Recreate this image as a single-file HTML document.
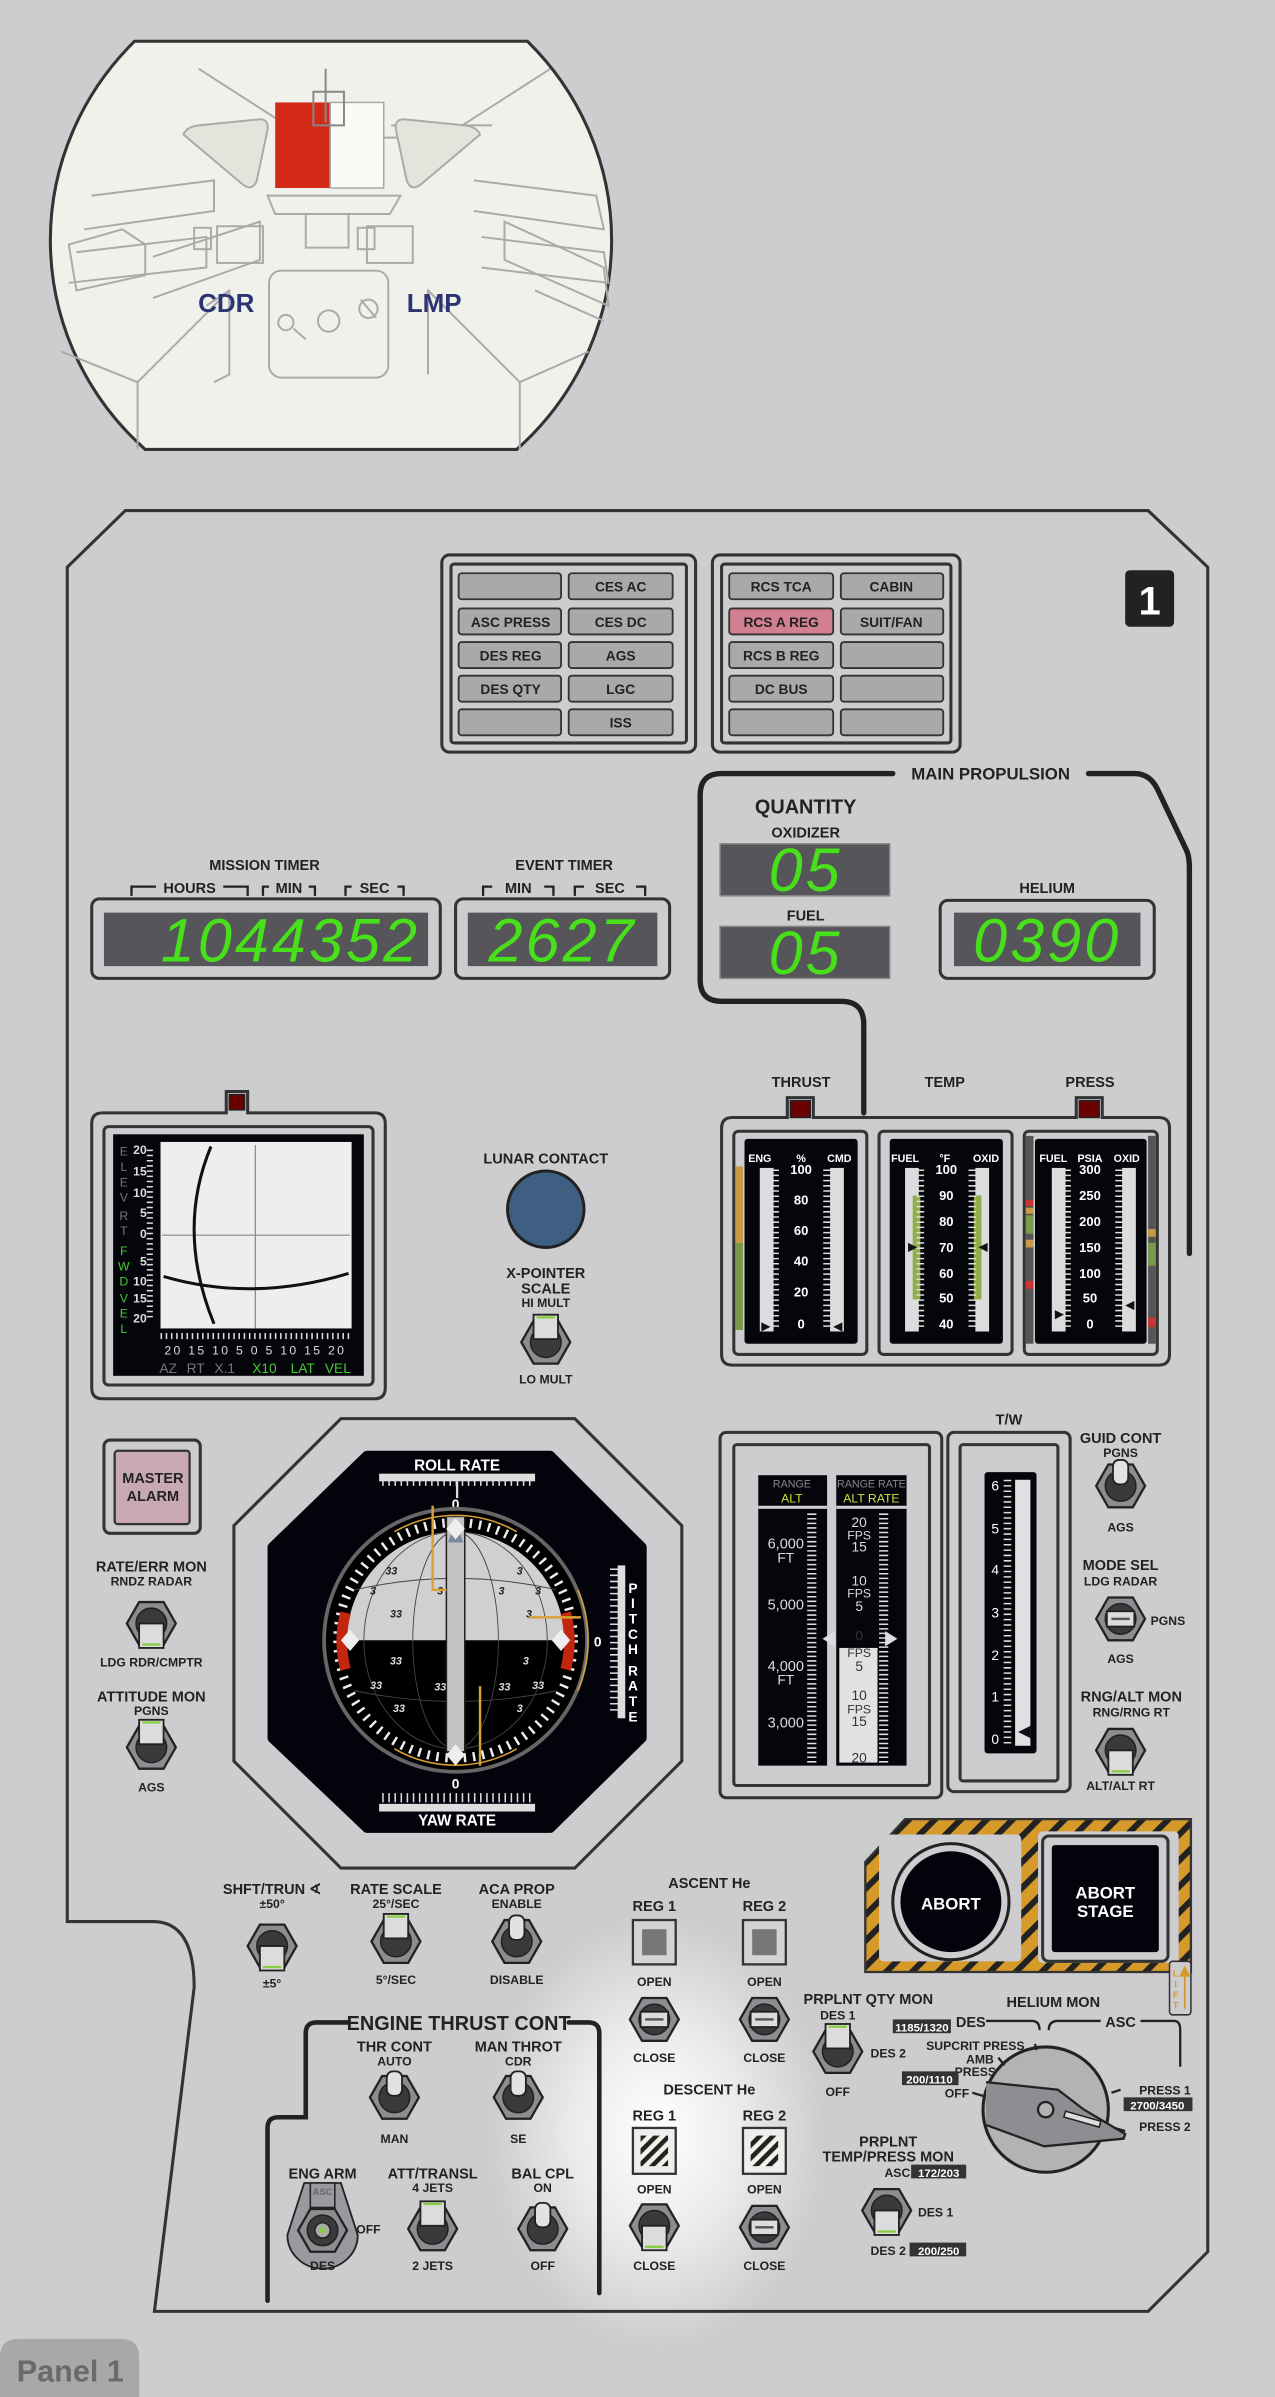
<!DOCTYPE html>
<html><head><meta charset="utf-8">
<style>
html,body{margin:0;padding:0;background:#cdcdd0;}
svg{display:block;}
text{font-family:"Liberation Sans",sans-serif;font-weight:bold;fill:#222;text-anchor:middle;}
.s{font-size:8px;}
.m{font-size:9.5px;}
.l{font-size:11px;}
.w{fill:#fff;}
.dg{font-family:"Liberation Sans",sans-serif;font-style:italic;font-weight:normal;fill:#47e01a;font-size:40px;letter-spacing:2px;}
.btn{fill:#a9a9ab;stroke:#333;stroke-width:1.2;}
.bt{font-size:9px;}
.sc{font-size:8px;fill:#e8e8e8;}
</style></head><body>
<svg width="1275" height="2397" viewBox="0 0 834 1568" preserveAspectRatio="none" xmlns="http://www.w3.org/2000/svg">
<defs>
<radialGradient id="glow" cx="0.5" cy="0.5" r="0.5">
<stop offset="0" stop-color="#ffffff" stop-opacity="1"/>
<stop offset="0.5" stop-color="#ffffff" stop-opacity="0.6"/>
<stop offset="1" stop-color="#ffffff" stop-opacity="0"/>
</radialGradient>
<pattern id="haz" width="12" height="12" patternUnits="userSpaceOnUse" patternTransform="rotate(45)">
<rect width="12" height="12" fill="#d59a2a"/><rect width="4" height="12" fill="#222"/>
</pattern>
<pattern id="str" width="6" height="6" patternUnits="userSpaceOnUse" patternTransform="rotate(45)">
<rect width="6" height="6" fill="#f2f2e8"/><rect width="3" height="6" fill="#222"/>
</pattern>
<g id="hex"><polygon points="-16,0 -8,-14 8,-14 16,0 8,14 -8,14" fill="#8d8d91" stroke="#222" stroke-width="1.5"/><circle r="10" fill="#3a3a3c" stroke="#222"/></g>
<g id="tu"><use href="#hex"/><rect x="-5" y="-17" width="10" height="16" rx="4" fill="#e2e2e2" stroke="#222" stroke-width="1.2"/></g>
<g id="tb"><use href="#hex"/><rect x="-8" y="-18" width="16" height="16" fill="#dcdcdc" stroke="#222" stroke-width="1.2"/><rect x="-6" y="-17" width="12" height="1.5" fill="#8c4"/></g>
<g id="td"><use href="#hex"/><rect x="-8" y="0" width="16" height="16" fill="#dcdcdc" stroke="#222" stroke-width="1.2"/><rect x="-6" y="13" width="12" height="1.5" fill="#8c4"/></g>
<g id="tm"><use href="#hex"/><rect x="-9" y="-5" width="18" height="10" fill="#dcdcdc" stroke="#222" stroke-width="1.2"/><rect x="-6" y="-0.8" width="12" height="1.6" fill="#555"/></g>
</defs>

<rect width="834" height="1568" fill="#cdcdd0"/>

<!-- cockpit -->
<path d="M88,27 H345 A190,185 0 0 1 338,294 H95 A190,185 0 0 1 88,27Z" fill="#f1f1ec" stroke="#333" stroke-width="2"/>
<g fill="none" stroke="#aaa" stroke-width="1.3">
<path d="M130,45 L200,90 L290,90 L360,45"/>
<path d="M256,82 H322"/>
<path d="M40,230 L90,250 L90,294 M385,230 L340,250 L340,294 M90,250 L150,190 M340,250 L280,190"/>
<path d="M60,128 L140,118 L140,138 L55,150 M50,165 L135,155 L135,175 L45,185"/>
<path d="M310,118 L390,128 L395,150 L310,138 M315,155 L395,165 L398,185 L315,175"/>
<path d="M45,160 L80,150 L95,160 L95,180 L50,190Z M100,168 L170,145 L170,170 L100,195"/>
<path d="M330,145 L395,175 L398,200 L330,170 Z M350,190 L395,210"/>
<path d="M135,200 L150,190 L150,245 L140,250 M290,200 L280,190 L280,245"/>
<rect x="176" y="177" width="78" height="70" rx="8"/>
<rect x="142" y="148" width="30" height="24"/><rect x="240" y="148" width="30" height="24"/>
<rect x="200" y="140" width="28" height="22"/>
<path d="M175,128 H262 L255,140 H180Z"/>
<rect x="127" y="149" width="11" height="14"/><rect x="234" y="149" width="11" height="14"/>
<circle cx="215" cy="210" r="7"/><circle cx="187" cy="211" r="5"/><circle cx="241" cy="202" r="6"/>
<path d="M192,215 L200,222 M236,196 L246,208"/>
</g>
<path d="M120,88 Q122,83 130,82 L170,78 Q176,78 175,85 L168,118 Q165,126 158,120 Z" fill="#e4e4dc" stroke="#aaa" stroke-width="1.3"/>
<path d="M314,88 Q312,83 304,82 L264,78 Q258,78 259,85 L266,118 Q269,126 276,120 Z" fill="#e4e4dc" stroke="#aaa" stroke-width="1.3"/>
<rect x="180" y="67" width="36" height="56" fill="#d42a18"/>
<rect x="216" y="67" width="35" height="56" fill="#fafaf6" stroke="#aaa"/>
<path d="M213,45 V80 M205,60 H225 V82 H205Z" fill="none" stroke="#888" stroke-width="1.3"/>
<text x="148" y="204" style="font-size:17px;fill:#2c3573">CDR</text>
<text x="284" y="204" style="font-size:17px;fill:#2c3573">LMP</text>

<!-- glow -->
<ellipse cx="430" cy="1395" rx="110" ry="140" fill="url(#glow)"/>

<!-- panel outline -->
<path d="M82,334 H751 L790,371 V1473 L751,1512 H101 L127,1300 Q127,1257 100,1257 H44 V371 Z" fill="none" stroke="#333" stroke-width="2"/>

<!-- caution lights -->
<g>
<rect x="289" y="363" width="166" height="129" rx="5" fill="none" stroke="#333" stroke-width="2"/>
<rect x="295" y="369" width="154" height="117" rx="2" fill="none" stroke="#333" stroke-width="2"/>
<rect x="466" y="363" width="162" height="129" rx="5" fill="none" stroke="#333" stroke-width="2"/>
<rect x="472" y="369" width="150" height="117" rx="2" fill="none" stroke="#333" stroke-width="2"/>
<rect class="btn" x="300" y="375" width="67" height="17" rx="2"/><rect class="btn" x="372" y="375" width="68" height="17" rx="2"/>
<rect class="btn" x="300" y="398" width="67" height="17" rx="2"/><rect class="btn" x="372" y="398" width="68" height="17" rx="2"/>
<rect class="btn" x="300" y="420" width="67" height="17" rx="2"/><rect class="btn" x="372" y="420" width="68" height="17" rx="2"/>
<rect class="btn" x="300" y="442" width="67" height="17" rx="2"/><rect class="btn" x="372" y="442" width="68" height="17" rx="2"/>
<rect class="btn" x="300" y="464" width="67" height="17" rx="2"/><rect class="btn" x="372" y="464" width="68" height="17" rx="2"/>
<text class="bt" x="406" y="387">CES AC</text>
<text class="bt" x="334" y="410">ASC PRESS</text><text class="bt" x="406" y="410">CES DC</text>
<text class="bt" x="334" y="432">DES REG</text><text class="bt" x="406" y="432">AGS</text>
<text class="bt" x="334" y="454">DES QTY</text><text class="bt" x="406" y="454">LGC</text>
<text class="bt" x="406" y="476">ISS</text>
<rect class="btn" x="477" y="375" width="68" height="17" rx="2"/><rect class="btn" x="550" y="375" width="67" height="17" rx="2"/>
<rect class="btn" x="477" y="398" width="68" height="17" rx="2" style="fill:#d27f92"/><rect class="btn" x="550" y="398" width="67" height="17" rx="2"/>
<rect class="btn" x="477" y="420" width="68" height="17" rx="2"/><rect class="btn" x="550" y="420" width="67" height="17" rx="2"/>
<rect class="btn" x="477" y="442" width="68" height="17" rx="2"/><rect class="btn" x="550" y="442" width="67" height="17" rx="2"/>
<rect class="btn" x="477" y="464" width="68" height="17" rx="2"/><rect class="btn" x="550" y="464" width="67" height="17" rx="2"/>
<text class="bt" x="511" y="387">RCS TCA</text><text class="bt" x="583" y="387">CABIN</text>
<text class="bt" x="511" y="410">RCS A REG</text><text class="bt" x="583" y="410">SUIT/FAN</text>
<text class="bt" x="511" y="432">RCS B REG</text>
<text class="bt" x="511" y="454">DC BUS</text>
</g>
<rect x="736" y="373" width="32" height="37" rx="3" fill="#222"/>
<text x="752" y="402" class="w" style="font-size:26px">1</text>

<!-- main propulsion line -->
<path d="M565,728 V670 Q565,655 550,655 H472 Q458,655 458,641 V520 Q458,506 472,506 H584 M712,506 H742 Q752,506 757,516 L776,556 Q778,560 778,568 V820" fill="none" stroke="#222" stroke-width="3.5" stroke-linecap="round"/>
<text x="648" y="510" class="l">MAIN PROPULSION</text>
<text x="527" y="532" style="font-size:13px">QUANTITY</text>
<text x="527" y="548" class="m">OXIDIZER</text>
<rect x="471" y="552" width="111" height="34" fill="#55555a" stroke="#888"/>
<text x="527" y="583" class="dg">05</text>
<text x="527" y="602" class="m">FUEL</text>
<rect x="471" y="606" width="111" height="34" fill="#55555a" stroke="#888"/>
<text x="527" y="637" class="dg">05</text>
<text x="685" y="584" class="m">HELIUM</text>
<rect x="615" y="589" width="140" height="51" rx="5" fill="none" stroke="#333" stroke-width="2"/>
<rect x="624" y="597" width="122" height="35" fill="#55555a"/>
<text x="685" y="629" class="dg">0390</text>

<!-- timers -->
<text x="173" y="569" class="m">MISSION TIMER</text>
<text x="369" y="569" class="m">EVENT TIMER</text>
<g fill="none" stroke="#222" stroke-width="1.5">
<path d="M86,586 V580 H102 M146,580 H162 V586 M172,586 V580 H176 M202,580 H206 V586 M226,586 V580 H230 M260,580 H264 V586"/>
<path d="M316,586 V580 H322 M356,580 H362 V586 M376,586 V580 H382 M416,580 H422 V586"/>
</g>
<text x="124" y="584" class="m">HOURS</text><text x="189" y="584" class="m">MIN</text><text x="245" y="584" class="m">SEC</text>
<text x="339" y="584" class="m">MIN</text><text x="399" y="584" class="m">SEC</text>
<rect x="60" y="588" width="228" height="52" rx="5" fill="none" stroke="#333" stroke-width="2"/>
<rect x="68" y="597" width="212" height="35" fill="#55555a"/>
<text x="190" y="629" class="dg">1044352</text>
<rect x="298" y="588" width="140" height="52" rx="5" fill="none" stroke="#333" stroke-width="2"/>
<rect x="306" y="597" width="124" height="35" fill="#55555a"/>
<text x="368" y="629" class="dg">2627</text>

<!-- x-pointer -->
<path d="M60,735 Q60,728 67,728 H148 V714 H162 V728 H245 Q252,728 252,735 V908 Q252,915 245,915 H67 Q60,915 60,908Z" fill="none" stroke="#333" stroke-width="2"/>
<rect x="150" y="716" width="10" height="10" fill="#6a0000" stroke="#222"/>
<rect x="68" y="737" width="176" height="169" rx="3" fill="none" stroke="#333" stroke-width="2"/>
<rect x="74" y="742" width="164" height="158" fill="#05050c"/>
<rect x="105" y="747" width="125" height="122" fill="#eeeeee"/>
<path d="M167,749 V869 M106,808 H229" stroke="#888" stroke-width="0.8"/>
<path d="M138,750 Q115,805 140,866" fill="none" stroke="#111" stroke-width="2"/>
<path d="M107,835 Q165,852 228,833" fill="none" stroke="#111" stroke-width="2"/>
<path d="M105,874 H230" stroke="#ddd" stroke-width="4" stroke-dasharray="1 2.4"/>
<path d="M98,752 V862" stroke="#ddd" stroke-width="4" stroke-dasharray="1 2.4"/>
<g>
<text x="96" y="755" style="text-anchor:end;fill:#ddd;font-size:8px">20</text><text x="96" y="769" style="text-anchor:end;fill:#ddd;font-size:8px">15</text>
<text x="96" y="783" style="text-anchor:end;fill:#ddd;font-size:8px">10</text><text x="96" y="796" style="text-anchor:end;fill:#ddd;font-size:8px">5</text>
<text x="96" y="810" style="text-anchor:end;fill:#ddd;font-size:8px">0</text><text x="96" y="828" style="text-anchor:end;fill:#ddd;font-size:8px">5</text>
<text x="96" y="841" style="text-anchor:end;fill:#ddd;font-size:8px">10</text><text x="96" y="852" style="text-anchor:end;fill:#ddd;font-size:8px">15</text>
<text x="96" y="865" style="text-anchor:end;fill:#ddd;font-size:8px">20</text>
</g>
<g style="font-size:8px;font-weight:normal">
<text x="81" y="756" style="fill:#777;font-weight:normal">E</text><text x="81" y="766" style="fill:#777;font-weight:normal">L</text>
<text x="81" y="776" style="fill:#777;font-weight:normal">E</text><text x="81" y="786" style="fill:#777;font-weight:normal">V</text>
<text x="81" y="798" style="fill:#777;font-weight:normal">R</text><text x="81" y="808" style="fill:#777;font-weight:normal">T</text>
<text x="81" y="821" style="fill:#4c3;font-weight:normal">F</text><text x="81" y="831" style="fill:#4c3;font-weight:normal">W</text>
<text x="81" y="841" style="fill:#4c3;font-weight:normal">D</text><text x="81" y="852" style="fill:#4c3;font-weight:normal">V</text>
<text x="81" y="862" style="fill:#4c3;font-weight:normal">E</text><text x="81" y="872" style="fill:#4c3;font-weight:normal">L</text>
</g>
<text x="167" y="886" style="font-size:8px;fill:#ddd;font-weight:normal;letter-spacing:1.5px">20 15 10 5 0 5 10 15 20</text>
<text x="110" y="898" style="font-size:9px;fill:#777;font-weight:normal">AZ</text>
<text x="128" y="898" style="font-size:9px;fill:#777;font-weight:normal">RT</text>
<text x="147" y="898" style="font-size:9px;fill:#777;font-weight:normal">X.1</text>
<text x="173" y="898" style="font-size:9px;fill:#4c3;font-weight:normal">X10</text>
<text x="198" y="898" style="font-size:9px;fill:#4c3;font-weight:normal">LAT</text>
<text x="221" y="898" style="font-size:9px;fill:#4c3;font-weight:normal">VEL</text>

<!-- lunar contact -->
<text x="357" y="761" class="m">LUNAR CONTACT</text>
<circle cx="357" cy="791" r="25" fill="#3f5f82" stroke="#222" stroke-width="2"/>
<text x="357" y="836" class="m">X-POINTER</text>
<text x="357" y="846" class="m">SCALE</text>
<text x="357" y="855" class="s">HI MULT</text>
<use href="#tb" x="357" y="878"/>
<text x="357" y="905" class="s">LO MULT</text>

<!-- propulsion gauges -->
<text x="524" y="711" class="m">THRUST</text><text x="618" y="711" class="m">TEMP</text><text x="713" y="711" class="m">PRESS</text>
<path d="M472,738 Q472,731 479,731 H515 V718 H532 V731 H704 V718 H721 V731 H758 Q765,731 765,738 V886 Q765,893 758,893 H479 Q472,893 472,886Z" fill="none" stroke="#333" stroke-width="2"/>
<rect x="517" y="720" width="13" height="11" fill="#6a0000" stroke="#222"/>
<rect x="706" y="720" width="13" height="11" fill="#6a0000" stroke="#222"/>
<rect x="480" y="740" width="87" height="146" rx="3" fill="none" stroke="#333" stroke-width="2"/>
<rect x="575" y="740" width="87" height="146" rx="3" fill="none" stroke="#333" stroke-width="2"/>
<rect x="670" y="740" width="87" height="146" rx="3" fill="none" stroke="#333" stroke-width="2"/>
<rect x="487" y="745" width="74" height="134" rx="2" fill="#05050c"/>
<rect x="582" y="745" width="74" height="134" rx="2" fill="#05050c"/>
<rect x="677" y="745" width="73" height="134" rx="2" fill="#05050c"/>
<rect x="481" y="763" width="5" height="50" fill="#c99a45"/><rect x="481" y="813" width="5" height="57" fill="#7a9a4a"/>
<rect x="671" y="743" width="5" height="136" fill="#555"/><rect x="751" y="743" width="5" height="136" fill="#555"/>
<rect x="671" y="785" width="5" height="4" fill="#c33"/><rect x="671" y="790" width="5" height="4" fill="#c99a45"/><rect x="671" y="795" width="5" height="12" fill="#7a9a4a"/><rect x="671" y="811" width="5" height="5" fill="#c99a45"/><rect x="671" y="838" width="5" height="5" fill="#c33"/>
<rect x="751" y="804" width="5" height="5" fill="#c99a45"/><rect x="751" y="813" width="5" height="15" fill="#7a9a4a"/><rect x="751" y="862" width="5" height="6" fill="#c33"/>
<g>
<text x="497" y="760" class="w" style="font-size:7px">ENG</text><text x="524" y="760" class="w" style="font-size:7px">%</text><text x="549" y="760" class="w" style="font-size:7px">CMD</text>
<text x="592" y="760" class="w" style="font-size:7px">FUEL</text><text x="618" y="760" class="w" style="font-size:7px">°F</text><text x="645" y="760" class="w" style="font-size:7px">OXID</text>
<text x="689" y="760" class="w" style="font-size:7px">FUEL</text><text x="713" y="760" class="w" style="font-size:7px">PSIA</text><text x="737" y="760" class="w" style="font-size:7px">OXID</text>
</g>
<g fill="#dcdcdc">
<rect x="497" y="764" width="9" height="107"/><rect x="543" y="764" width="9" height="107"/>
<rect x="592" y="764" width="9" height="107"/><rect x="638" y="764" width="9" height="107"/>
<rect x="688" y="764" width="9" height="107"/><rect x="734" y="764" width="9" height="107"/>
</g>
<rect x="597" y="782" width="5" height="68" fill="#8fae4a"/><rect x="637" y="782" width="5" height="68" fill="#8fae4a"/>
<path d="M507,765 V868 M541,765 V868 M602,765 V868 M636,765 V868 M698,765 V868 M732,765 V868" stroke="#ddd" stroke-dasharray="1 2.4" stroke-width="5"/>
<g>
<text x="524" y="768" class="w" style="font-size:8.5px">100</text><text x="524" y="788" class="w" style="font-size:8.5px">80</text><text x="524" y="808" class="w" style="font-size:8.5px">60</text><text x="524" y="828" class="w" style="font-size:8.5px">40</text><text x="524" y="848" class="w" style="font-size:8.5px">20</text><text x="524" y="869" class="w" style="font-size:8.5px">0</text>
<text x="619" y="768" class="w" style="font-size:8.5px">100</text><text x="619" y="785" class="w" style="font-size:8.5px">90</text><text x="619" y="802" class="w" style="font-size:8.5px">80</text><text x="619" y="819" class="w" style="font-size:8.5px">70</text><text x="619" y="836" class="w" style="font-size:8.5px">60</text><text x="619" y="852" class="w" style="font-size:8.5px">50</text><text x="619" y="869" class="w" style="font-size:8.5px">40</text>
<text x="713" y="768" class="w" style="font-size:8.5px">300</text><text x="713" y="785" class="w" style="font-size:8.5px">250</text><text x="713" y="802" class="w" style="font-size:8.5px">200</text><text x="713" y="819" class="w" style="font-size:8.5px">150</text><text x="713" y="836" class="w" style="font-size:8.5px">100</text><text x="713" y="852" class="w" style="font-size:8.5px">50</text><text x="713" y="869" class="w" style="font-size:8.5px">0</text>
</g>
<path d="M498,865 l6,3 l-6,3Z M551,865 l-6,3 l6,3Z M594,813 l6,3 l-6,3Z M646,813 l-6,3 l6,3Z M690,857 l6,3 l-6,3Z M742,851 l-6,3 l6,3Z" fill="#111"/>

<!-- master alarm etc -->
<rect x="68" y="942" width="63" height="61" rx="4" fill="none" stroke="#333" stroke-width="2"/>
<rect x="75" y="949" width="49" height="48" rx="2" fill="#c9a9b1" stroke="#333" stroke-width="1.5"/>
<text x="100" y="970" class="m">MASTER</text><text x="100" y="982" class="m">ALARM</text>
<text x="99" y="1028" class="m">RATE/ERR MON</text><text x="99" y="1037" class="s">RNDZ RADAR</text>
<use href="#td" x="99" y="1062"/>
<text x="99" y="1090" class="s">LDG RDR/CMPTR</text>
<text x="99" y="1113" class="m">ATTITUDE MON</text><text x="99" y="1122" class="s">PGNS</text>
<use href="#tb" x="99" y="1143"/>
<text x="99" y="1172" class="s">AGS</text>

<!-- FDAI -->
<polygon points="223,928 376,928 446,998 446,1152 376,1222 223,1222 153,1152 153,998" fill="none" stroke="#333" stroke-width="2"/>
<polygon points="240,952 360,952 420,1012 420,1137 360,1196 240,1196 178,1137 178,1012" fill="#03030c" stroke="#03030c" stroke-width="6" stroke-linejoin="round"/>
<text x="299" y="962" class="w" style="font-size:10px">ROLL RATE</text>
<rect x="248" y="964" width="102" height="5" fill="#ddd"/>
<path d="M250,969 H348" stroke="#ddd" stroke-width="6" stroke-dasharray="1 3"/>
<path d="M299,969 V980" stroke="#ddd" stroke-width="1.5"/>
<text x="298" y="987" class="w" style="font-size:9px">0</text>
<rect x="248" y="1180" width="102" height="5" fill="#ddd"/>
<path d="M250,1176 H348" stroke="#ddd" stroke-width="6" stroke-dasharray="1 3"/>
<text x="298" y="1170" class="w" style="font-size:9px">0</text>
<text x="299" y="1194" class="w" style="font-size:10px">YAW RATE</text>
<rect x="404" y="1024" width="5" height="100" fill="#ddd"/>
<path d="M402,1026 V1122" stroke="#ddd" stroke-width="6" stroke-dasharray="1 3"/>
<text x="391" y="1077" class="w" style="font-size:9px">0</text>
<g>
<text x="414" y="1042" class="w" style="font-size:9px">P</text><text x="414" y="1052" class="w" style="font-size:9px">I</text><text x="414" y="1062" class="w" style="font-size:9px">T</text><text x="414" y="1072" class="w" style="font-size:9px">C</text><text x="414" y="1082" class="w" style="font-size:9px">H</text><text x="414" y="1096" class="w" style="font-size:9px">R</text><text x="414" y="1106" class="w" style="font-size:9px">A</text><text x="414" y="1116" class="w" style="font-size:9px">T</text><text x="414" y="1126" class="w" style="font-size:9px">E</text>
</g>
<circle cx="298" cy="1073" r="86" fill="#000" stroke="#666" stroke-width="2.5"/>
<circle cx="298" cy="1073" r="77" fill="none" stroke="#eee" stroke-width="6" stroke-dasharray="1.6 4.4"/>
<path d="M227,1073 A71,71 0 0 1 369,1073 Z" fill="#d0d0d3"/>
<path d="M226,1055 A72,72 0 0 0 226,1092" stroke="#c3260f" stroke-width="7" fill="none"/>
<path d="M370,1055 A72,72 0 0 1 370,1092" stroke="#c3260f" stroke-width="7" fill="none"/>
<g fill="none" stroke="#444" stroke-width="0.6">
<ellipse cx="298" cy="1073" rx="60" ry="71"/><ellipse cx="298" cy="1073" rx="28" ry="71"/>
<path d="M232,1040 Q298,1025 364,1040 M232,1106 Q298,1120 364,1106"/>
</g>
<g>
<text x="256" y="1030" style="font-size:7px;fill:#222;font-style:italic">33</text><text x="340" y="1030" style="font-size:7px;fill:#222;font-style:italic">3</text>
<text x="244" y="1043" style="font-size:7px;fill:#222;font-style:italic">3</text><text x="288" y="1043" style="font-size:7px;fill:#222;font-style:italic">3</text><text x="328" y="1043" style="font-size:7px;fill:#222;font-style:italic">3</text><text x="352" y="1043" style="font-size:7px;fill:#222;font-style:italic">3</text>
<text x="259" y="1058" style="font-size:7px;fill:#222;font-style:italic">33</text><text x="346" y="1058" style="font-size:7px;fill:#222;font-style:italic">3</text>
<text x="259" y="1089" style="font-size:7px;fill:#ddd;font-style:italic">33</text><text x="344" y="1089" style="font-size:7px;fill:#ddd;font-style:italic">3</text>
<text x="246" y="1105" style="font-size:7px;fill:#ddd;font-style:italic">33</text><text x="288" y="1106" style="font-size:7px;fill:#ddd;font-style:italic">33</text><text x="330" y="1106" style="font-size:7px;fill:#ddd;font-style:italic">33</text><text x="352" y="1105" style="font-size:7px;fill:#ddd;font-style:italic">33</text>
<text x="261" y="1120" style="font-size:7px;fill:#ddd;font-style:italic">33</text><text x="340" y="1120" style="font-size:7px;fill:#ddd;font-style:italic">3</text>
</g>
<rect x="292" y="992" width="12" height="154" fill="#c3c3c6" stroke="#222"/>
<path d="M298,995 l-5,14 h10z" fill="#7a8a9a"/>
<path d="M283,985 V1040 H292 M346,1058 H380 M314,1103 V1155" stroke="#d8a236" stroke-width="1.6" fill="none"/>
<path d="M258,1002 A80,80 0 0 1 338,1002 M258,1144 A80,80 0 0 0 338,1144 M378,1040 A85,85 0 0 1 378,1106" stroke="#d8a236" stroke-width="1" fill="none"/>
<path d="M298,993 l6,7 l-6,7 l-6,-7z M298,1141 l6,7 l-6,7 l-6,-7z M223,1073 l6,-7 l6,7 l-6,7z M373,1073 l-6,-7 l-6,7 l6,7z" fill="#eee"/>

<!-- range/alt -->
<rect x="471" y="937" width="145" height="239" rx="4" fill="none" stroke="#333" stroke-width="2"/>
<rect x="480" y="945" width="128" height="223" rx="2" fill="none" stroke="#333" stroke-width="2"/>
<rect x="496" y="965" width="45" height="190" fill="#05050c"/>
<rect x="547" y="965" width="46" height="190" fill="#05050c"/>
<rect x="496" y="985" width="45" height="2" fill="#cdcdd0"/><rect x="547" y="985" width="46" height="2" fill="#cdcdd0"/>
<text x="518" y="973" style="font-size:7px;fill:#888;font-weight:normal">RANGE</text>
<text x="518" y="983" style="font-size:8px;fill:#c8e040;font-weight:normal">ALT</text>
<text x="570" y="973" style="font-size:7px;fill:#888;font-weight:normal">RANGE RATE</text>
<text x="570" y="983" style="font-size:8px;fill:#c8e040;font-weight:normal">ALT RATE</text>
<rect x="549" y="1078" width="25" height="75" fill="#e2e2e2"/>
<path d="M531,990 V1153 M578,990 V1153" stroke="#ddd" stroke-width="6" stroke-dasharray="1 2"/>
<g>
<text x="514" y="1013" style="font-size:9.5px;fill:#ddd;font-weight:normal">6,000</text><text x="514" y="1022" style="font-size:9px;fill:#ddd;font-weight:normal">FT</text>
<text x="514" y="1053" style="font-size:9.5px;fill:#ddd;font-weight:normal">5,000</text>
<text x="514" y="1093" style="font-size:9.5px;fill:#ddd;font-weight:normal">4,000</text><text x="514" y="1102" style="font-size:9px;fill:#ddd;font-weight:normal">FT</text>
<text x="514" y="1130" style="font-size:9.5px;fill:#ddd;font-weight:normal">3,000</text>
<text x="562" y="999" style="font-size:9px;fill:#ddd;font-weight:normal">20</text><text x="562" y="1007" style="font-size:8px;fill:#ddd;font-weight:normal">FPS</text><text x="562" y="1015" style="font-size:9px;fill:#ddd;font-weight:normal">15</text>
<text x="562" y="1037" style="font-size:9px;fill:#ddd;font-weight:normal">10</text><text x="562" y="1045" style="font-size:8px;fill:#ddd;font-weight:normal">FPS</text><text x="562" y="1054" style="font-size:9px;fill:#ddd;font-weight:normal">5</text>
<text x="562" y="1073" style="font-size:9px;fill:#333;font-weight:normal">0</text><text x="562" y="1084" style="font-size:8px;fill:#333;font-weight:normal">FPS</text><text x="562" y="1093" style="font-size:9px;fill:#333;font-weight:normal">5</text>
<text x="562" y="1112" style="font-size:9px;fill:#333;font-weight:normal">10</text><text x="562" y="1121" style="font-size:8px;fill:#333;font-weight:normal">FPS</text><text x="562" y="1129" style="font-size:9px;fill:#333;font-weight:normal">15</text>
<text x="562" y="1153" style="font-size:9px;fill:#333;font-weight:normal">20</text>
</g>
<path d="M538,1072 l8,-5 v10z M587,1072 l-8,-5 v10z" fill="#ddd"/>

<!-- T/W -->
<text x="660" y="932" class="m">T/W</text>
<rect x="620" y="937" width="80" height="235" rx="4" fill="none" stroke="#333" stroke-width="2"/>
<rect x="628" y="945" width="64" height="220" rx="2" fill="none" stroke="#333" stroke-width="2"/>
<rect x="644" y="963" width="34" height="184" rx="2" fill="#05050c"/>
<rect x="664" y="968" width="10" height="174" fill="#e0e0e0"/>
<path d="M659,968 V1141" stroke="#ddd" stroke-width="5" stroke-dasharray="1 2.5"/>
<g><text x="651" y="975" class="w" style="font-size:9px;font-weight:normal">6</text><text x="651" y="1003" class="w" style="font-size:9px;font-weight:normal">5</text><text x="651" y="1030" class="w" style="font-size:9px;font-weight:normal">4</text><text x="651" y="1058" class="w" style="font-size:9px;font-weight:normal">3</text><text x="651" y="1086" class="w" style="font-size:9px;font-weight:normal">2</text><text x="651" y="1113" class="w" style="font-size:9px;font-weight:normal">1</text><text x="651" y="1141" class="w" style="font-size:9px;font-weight:normal">0</text></g>
<path d="M666,1133 l8,-4 v8z" fill="#111"/>

<!-- right switches -->
<text x="733" y="944" class="m">GUID CONT</text><text x="733" y="953" class="s">PGNS</text>
<use href="#tu" x="733" y="972"/>
<text x="733" y="1002" class="s">AGS</text>
<text x="733" y="1027" class="m">MODE SEL</text><text x="733" y="1037" class="s">LDG RADAR</text>
<use href="#tm" x="733" y="1059"/>
<text x="764" y="1063" class="s">PGNS</text>
<text x="733" y="1088" class="s">AGS</text>
<text x="740" y="1113" class="m">RNG/ALT MON</text><text x="740" y="1123" class="s">RNG/RNG RT</text>
<use href="#td" x="733" y="1145"/>
<text x="733" y="1171" class="s">ALT/ALT RT</text>

<!-- abort -->
<path d="M566,1218 L592,1190 H779 V1290 H566 Z" fill="url(#haz)" stroke="#333" stroke-width="1.5"/>
<rect x="575" y="1200" width="93" height="83" rx="3" fill="#cdcdd0"/>
<rect x="679" y="1198" width="92" height="86" rx="3" fill="#cdcdd0"/>
<circle cx="622" cy="1244" r="38" fill="none" stroke="#222" stroke-width="2"/>
<circle cx="622" cy="1244" r="33" fill="#03030c"/>
<text x="622" y="1249" class="w" style="font-size:11px">ABORT</text>
<rect x="682" y="1201" width="82" height="82" rx="4" fill="none" stroke="#333" stroke-width="2"/>
<rect x="688" y="1207" width="70" height="70" rx="2" fill="#03030c"/>
<text x="723" y="1242" class="w" style="font-size:11px">ABORT</text>
<text x="723" y="1254" class="w" style="font-size:11px">STAGE</text>
<rect x="765" y="1283" width="14" height="35" rx="2" fill="#cdcdd0" stroke="#333"/>
<text x="769" y="1293" style="font-size:6px;fill:#d59a2a">L</text><text x="769" y="1300" style="font-size:6px;fill:#d59a2a">I</text><text x="769" y="1307" style="font-size:6px;fill:#d59a2a">F</text><text x="769" y="1314" style="font-size:6px;fill:#d59a2a">T</text>
<path d="M775,1314 V1288 M772,1293 l3,-6 l3,6" stroke="#d59a2a" stroke-width="1.2" fill="#d59a2a"/>

<!-- lower left switches -->
<text x="178" y="1239" class="m">SHFT/TRUN ∢</text><text x="178" y="1248" class="s">±50°</text>
<use href="#td" x="178" y="1273"/>
<text x="178" y="1300" class="s">±5°</text>
<text x="259" y="1239" class="m">RATE SCALE</text><text x="259" y="1248" class="s">25°/SEC</text>
<use href="#tb" x="259" y="1270"/>
<text x="259" y="1298" class="s">5°/SEC</text>
<text x="338" y="1239" class="m">ACA PROP</text><text x="338" y="1248" class="s">ENABLE</text>
<use href="#tu" x="338" y="1270"/>
<text x="338" y="1298" class="s">DISABLE</text>

<!-- ascent / descent He -->
<text x="464" y="1235" class="m">ASCENT He</text>
<text x="428" y="1250" class="m">REG 1</text><text x="500" y="1250" class="m">REG 2</text>
<rect x="414" y="1256" width="28" height="29" fill="#d4d4d4" stroke="#333" stroke-width="1.5"/><rect x="420" y="1262" width="16" height="17" fill="#777"/>
<rect x="486" y="1256" width="28" height="29" fill="#d4d4d4" stroke="#333" stroke-width="1.5"/><rect x="492" y="1262" width="16" height="17" fill="#777"/>
<text x="428" y="1299" class="s">OPEN</text><text x="500" y="1299" class="s">OPEN</text>
<use href="#tm" x="428" y="1321"/><use href="#tm" x="500" y="1321"/>
<text x="428" y="1349" class="s">CLOSE</text><text x="500" y="1349" class="s">CLOSE</text>
<text x="464" y="1370" class="m">DESCENT He</text>
<text x="428" y="1387" class="m">REG 1</text><text x="500" y="1387" class="m">REG 2</text>
<rect x="414" y="1392" width="28" height="30" fill="#eee" stroke="#333" stroke-width="1.5"/><rect x="419" y="1397" width="18" height="20" fill="url(#str)"/>
<rect x="486" y="1392" width="28" height="30" fill="#eee" stroke="#333" stroke-width="1.5"/><rect x="491" y="1397" width="18" height="20" fill="url(#str)"/>
<text x="428" y="1435" class="s">OPEN</text><text x="500" y="1435" class="s">OPEN</text>
<use href="#td" x="428" y="1456"/><use href="#tm" x="500" y="1457"/>
<text x="428" y="1485" class="s">CLOSE</text><text x="500" y="1485" class="s">CLOSE</text>

<!-- engine thrust cont -->
<path d="M175,1505 V1392 Q175,1385 182,1385 H200 V1330 Q200,1323 207,1323 H228 M372,1323 H385 Q392,1323 392,1330 V1500" fill="none" stroke="#222" stroke-width="3" stroke-linecap="round"/>
<text x="300" y="1328" style="font-size:13px">ENGINE THRUST CONT</text>
<text x="258" y="1342" class="m">THR CONT</text><text x="258" y="1351" class="s">AUTO</text>
<use href="#tu" x="258" y="1372"/>
<text x="258" y="1402" class="s">MAN</text>
<text x="339" y="1342" class="m">MAN THROT</text><text x="339" y="1351" class="s">CDR</text>
<use href="#tu" x="339" y="1372"/>
<text x="339" y="1402" class="s">SE</text>
<text x="211" y="1425" class="m">ENG ARM</text>
<path d="M199,1428 H223 L234,1462 A23,22 0 0 1 188,1462 Z" fill="#9a9a9e" stroke="#222" stroke-width="1.2"/>
<use href="#hex" x="211" y="1459"/>
<rect x="203" y="1428" width="16" height="16" fill="#9a9a9e" stroke="#222"/>
<text x="211" y="1436" style="font-size:6px;fill:#666">ASC</text>
<circle cx="211" cy="1459" r="5" fill="#aaa" stroke="#222"/><circle cx="211" cy="1459" r="2" fill="#8c4"/>
<text x="241" y="1461" class="s">OFF</text>
<text x="211" y="1485" class="s">DES</text>
<text x="283" y="1425" class="m">ATT/TRANSL</text><text x="283" y="1434" class="s">4 JETS</text>
<use href="#tb" x="283" y="1458"/>
<text x="283" y="1485" class="s">2 JETS</text>
<text x="355" y="1425" class="m">BAL CPL</text><text x="355" y="1434" class="s">ON</text>
<use href="#tu" x="355" y="1458"/>
<text x="355" y="1485" class="s">OFF</text>

<!-- prplnt qty mon -->
<text x="568" y="1311" class="m">PRPLNT QTY MON</text>
<text x="548" y="1321" class="s">DES 1</text>
<use href="#tb" x="548" y="1342"/>
<text x="581" y="1346" class="s">DES 2</text>
<text x="548" y="1371" class="s">OFF</text>

<!-- helium mon -->
<text x="689" y="1313" class="m">HELIUM MON</text>
<path d="M645,1322 H675 Q680,1322 680,1328 M686,1328 Q686,1322 692,1322 H720 M746,1322 H768 Q772,1322 772,1328 V1352" fill="none" stroke="#222" stroke-width="1.5"/>
<text x="635" y="1326" class="m">DES</text><text x="733" y="1326" class="m">ASC</text>
<rect x="584" y="1321" width="38" height="9" fill="#333"/><text x="603" y="1329" class="w" style="font-size:7.5px">1185/1320</text>
<text x="638" y="1341" class="s">SUPCRIT PRESS</text>
<text x="641" y="1350" class="s">AMB</text><text x="638" y="1358" class="s">PRESS</text>
<rect x="590" y="1355" width="37" height="9" fill="#333"/><text x="608" y="1363" class="w" style="font-size:7.5px">200/1110</text>
<text x="626" y="1372" class="s">OFF</text>
<circle cx="684" cy="1380" r="41" fill="#b3b3b6" stroke="#222" stroke-width="2"/>
<path d="M645,1362 L692,1367 L709,1380 L736,1396 L735,1399 L683,1404 L645,1390" fill="#8e8e92" stroke="#222" stroke-width="1.5"/>
<circle cx="684" cy="1380" r="5" fill="#b3b3b6" stroke="#222" stroke-width="1.5"/>
<rect x="697" y="1381" width="24" height="4" transform="rotate(16 697 1381)" fill="#ddd" stroke="#222"/>
<path d="M653,1346 L657,1351 M677,1337 L678,1341 M636,1369 L643,1371 M727,1369 L733,1367 M729,1392 L736,1394" stroke="#222" stroke-width="1.5"/>
<text x="762" y="1370" class="s">PRESS 1</text>
<rect x="735" y="1372" width="45" height="9" fill="#333"/><text x="757" y="1380" class="w" style="font-size:7.5px">2700/3450</text>
<text x="762" y="1394" class="s">PRESS 2</text>

<!-- prplnt temp/press -->
<text x="581" y="1404" class="m">PRPLNT</text>
<text x="581" y="1414" class="m">TEMP/PRESS MON</text>
<text x="587" y="1424" class="s">ASC</text>
<rect x="596" y="1416" width="36" height="9" fill="#333"/><text x="614" y="1424" class="w" style="font-size:7.5px">172/203</text>
<use href="#td" x="580" y="1446"/>
<text x="612" y="1450" class="s">DES 1</text>
<text x="581" y="1475" class="s">DES 2</text>
<rect x="595" y="1467" width="37" height="9" fill="#333"/><text x="614" y="1475" class="w" style="font-size:7.5px">200/250</text>

<!-- panel tab -->
<path d="M0,1568 V1542 Q0,1530 12,1530 H79 Q91,1530 91,1542 V1568Z" fill="#a8a8ab"/>
<text x="46" y="1558" style="font-size:20px;fill:#6a6a6d">Panel 1</text>
</svg>
</body></html>
